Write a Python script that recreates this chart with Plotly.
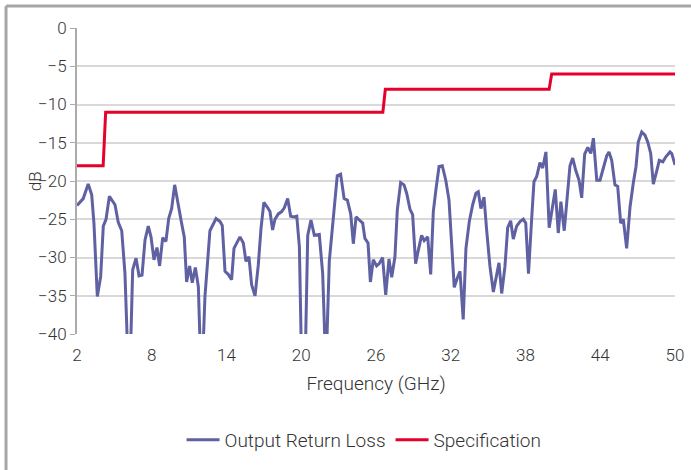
import plotly.graph_objects as go

freq = [2.0, 2.5, 2.9, 3.18, 3.36, 3.63, 3.9, 4.11, 4.33, 4.6, 5.05, 5.31, 5.59, 5.85, 6.12, 6.25,
        6.47, 6.74, 6.98, 7.22, 7.46, 7.72, 7.94, 8.18, 8.42, 8.63, 8.88, 9.14, 9.36, 9.6, 9.84,
        10.08, 10.37, 10.61, 10.8, 11.04, 11.25, 11.5, 11.74, 11.95, 12.05, 12.27, 12.46, 12.67,
        13.16, 13.48, 13.66, 13.88, 14.14, 14.41, 14.6, 14.87, 15.08, 15.35, 15.56, 15.8, 16.02,
        16.29, 16.55, 16.77, 17.0, 17.27, 17.49, 17.7, 17.89, 18.16, 18.43, 18.64, 18.91, 19.15,
        19.42, 19.64, 19.85, 20.04, 20.3, 20.52, 20.78, 21.05, 21.45, 21.72, 21.98, 22.25, 22.52,
        22.89, 23.16, 23.44, 23.7, 23.97, 24.18, 24.4, 24.66, 24.93, 25.11, 25.36, 25.55, 25.78,
        26.05, 26.26, 26.53, 26.78, 27.04, 27.26, 27.52, 27.71, 27.98, 28.25, 28.46, 28.73, 28.94,
        29.18, 29.39, 29.66, 29.87, 30.15, 30.39, 30.6, 30.82, 31.06, 31.32, 31.6, 31.86, 32.08,
        32.28, 32.52, 32.74, 33.0, 33.22, 33.49, 33.76, 34.02, 34.21, 34.42, 34.67, 34.88, 35.15,
        35.42, 35.63, 35.87, 36.09, 36.35, 36.57, 36.81, 37.02, 37.29, 37.56, 37.82, 38.02, 38.24,
        38.49, 38.68, 38.9, 39.16, 39.38, 39.64, 39.9, 40.18, 40.39, 40.63, 40.84, 41.11, 41.35,
        41.57, 41.79, 42.03, 42.3, 42.51, 42.75, 43.0, 43.24, 43.45, 43.72, 43.98, 44.25, 44.52,
        44.7, 44.92, 45.18, 45.4, 45.64, 45.85, 46.12, 46.39, 46.65, 46.87, 47.05, 47.33, 47.59,
        47.81, 48.05, 48.26, 48.53, 48.74, 49.02, 49.28, 49.6, 49.74, 50.0]

return_loss = [-23.2, -22.3, -20.4, -21.8, -25.5, -35.1, -32.5, -25.9, -25.0, -22.0, -23.1, -25.4,
               -26.5, -32.1, -45, -45, -31.6, -30.1, -32.4, -32.3, -27.7, -25.9, -27.3, -30.3,
               -28.7, -31.1, -27.4, -27.9, -24.9, -23.6, -20.5, -22.9, -25.3, -27.3, -33.2,
               -31.1, -33.3, -31.3, -33.8, -45, -45, -35.1, -30.8, -26.5, -24.9, -25.3, -25.8,
               -31.8, -32.2, -32.9, -28.8, -27.9, -27.3, -28.1, -30.5, -29.9, -33.6, -35.0,
               -31.0, -26.2, -22.8, -23.4, -24.0, -26.4, -25.0, -24.3, -24.0, -23.5, -22.3,
               -24.6, -24.7, -24.6, -28.6, -45, -45, -27.1, -25.1, -27.1, -27.0, -32.1, -45,
               -30.5, -25.5, -19.3, -19.1, -22.3, -22.5, -24.3, -28.2, -24.7, -25.1, -25.5,
               -27.5, -28.1, -33.2, -30.3, -31.1, -30.8, -30.0, -34.9, -30.2, -32.6, -29.9,
               -23.8, -20.2, -20.5, -21.6, -23.7, -24.4, -30.8, -29.1, -27.1, -27.8, -27.3,
               -32.2, -24.0, -21.0, -18.1, -18.0, -19.9, -22.5, -28.6, -33.9, -32.7, -31.8,
               -38.1, -28.8, -25.3, -23.1, -21.6, -21.4, -23.6, -22.1, -26.4, -31.2, -34.5,
               -32.9, -30.7, -34.7, -31.2, -26.1, -25.2, -27.6, -25.9, -25.3, -25.0, -25.5,
               -32.1, -25.1, -20.1, -19.4, -17.6, -18.3, -16.2, -26.1, -23.1, -21.1, -26.8,
               -22.7, -26.5, -22.3, -18.0, -17.0, -18.6, -19.9, -22.2, -16.5, -15.6, -16.4,
               -14.4, -19.9, -19.9, -18.3, -16.7, -16.2, -17.3, -20.5, -20.7, -25.5, -25.0,
               -28.8, -23.4, -20.3, -18.1, -14.9, -13.6, -14.0, -14.9, -16.4, -20.4, -18.7,
               -17.3, -17.5, -16.8, -16.2, -16.4, -17.9]

spec_freq = [2, 4.1, 4.3, 26.55, 26.75, 39.9, 40.1, 50]
spec_db = [-18, -18, -11, -11, -8, -8, -6, -6]

x_ticks = [2, 8, 14, 20, 26, 32, 38, 44, 50]
y_ticks = [0, -5, -10, -15, -20, -25, -30, -35, -40]

fig = go.Figure()
fig.add_trace(go.Scatter(x=freq, y=return_loss, mode="lines", name="Output Return Loss",
                         line=dict(color="#5f61a3", width=3)))
fig.add_trace(go.Scatter(x=spec_freq, y=spec_db, mode="lines", name="Specification",
                         line=dict(color="#e4022d", width=3)))

fig.update_layout(
    width=691, height=470,
    margin=dict(l=77, r=16, t=28, b=136),
    paper_bgcolor="white", plot_bgcolor="white",
    font=dict(family="Roboto", size=17, color="#333333", weight=300),
    showlegend=True,
    legend=dict(orientation="h", x=0.48, xanchor="center", yref="container", y=0.064,
                yanchor="middle", font=dict(size=19, color="#333333", weight=300),
                itemwidth=33, tracegroupgap=0),
    xaxis=dict(range=[2, 50], tickvals=x_ticks, showgrid=False, zeroline=False,
               showline=False, ticks="", ticklabelstandoff=9, automargin=False,
               title=dict(text="Frequency (GHz)", font=dict(size=19, weight=300), standoff=12)),
    yaxis=dict(range=[-40, 0], tickvals=y_ticks, showgrid=True, gridcolor="#d9d9d9",
               gridwidth=2, zeroline=False, showline=True, linecolor="#ababab", linewidth=2,
               ticks="outside", ticklen=5, tickcolor="#ababab", tickwidth=1, automargin=False),
    annotations=[
        dict(text="dB", xref="paper", yref="paper", x=-0.07, y=0.5, textangle=-90,
             showarrow=False, xanchor="center", yanchor="middle",
             font=dict(size=17, weight=300, color="#333333")),
    ],
    shapes=[
        dict(type="line", xref="paper", yref="paper", x0=-0.1187, x1=-0.1187, y0=1.072, y1=-0.45,
             line=dict(color="#a6a6a6", width=3)),
        dict(type="line", xref="paper", yref="paper", x0=-0.1187, x1=1.03, y0=1.072, y1=1.072,
             line=dict(color="#a6a6a6", width=3)),
    ],
)

fig.write_html("out.html", config={"displayModeBar": False},
               post_script="document.body.style.margin='0px';")
